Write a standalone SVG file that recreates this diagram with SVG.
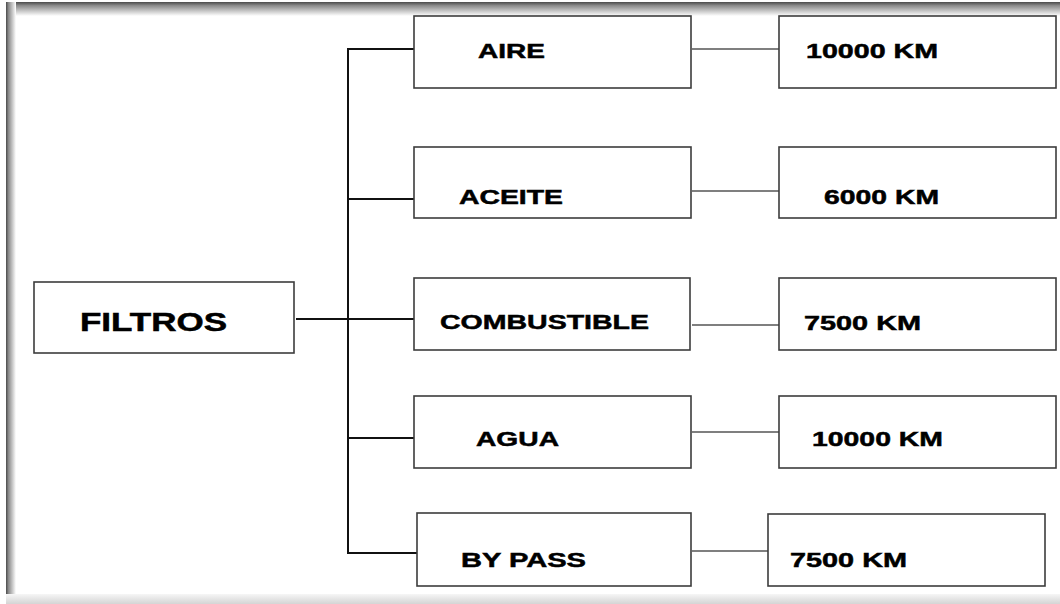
<svg xmlns="http://www.w3.org/2000/svg" width="1060" height="604" viewBox="0 0 1060 604">
  <defs>
    <linearGradient id="shadeTop" x1="0" y1="0" x2="0" y2="1">
      <stop offset="0" stop-color="#4a4a4a"/>
      <stop offset="0.25" stop-color="#8a8a8a"/>
      <stop offset="1" stop-color="#ffffff"/>
    </linearGradient>
    <linearGradient id="shadeLeft" x1="0" y1="0" x2="1" y2="0">
      <stop offset="0" stop-color="#4a4a4a"/>
      <stop offset="0.25" stop-color="#8a8a8a"/>
      <stop offset="1" stop-color="#ffffff"/>
    </linearGradient>
    <linearGradient id="shadeBottom" x1="0" y1="0" x2="0" y2="1">
      <stop offset="0" stop-color="#f6f6f6"/>
      <stop offset="1" stop-color="#d4d4d4"/>
    </linearGradient>
    <style>
      .box { fill: #ffffff; stroke: #3c3c3c; stroke-width: 1.6; }
      .lbl { font-family: "Liberation Sans", Arial, sans-serif; font-weight: bold; font-size: 21px; fill: #000000; stroke: #000000; stroke-width: 0.5; }
      .root { font-size: 25px; }
      .trunk { fill: none; stroke: #111111; stroke-width: 2; }
      .link { fill: none; stroke: #555555; stroke-width: 1.6; }
    </style>
  </defs>

  <!-- page background and edge shading -->
  <rect x="0" y="0" width="1060" height="604" fill="#ffffff"/>
  <rect x="6" y="2" width="1054" height="14" fill="url(#shadeTop)"/>
  <rect x="6" y="2" width="10" height="594" fill="url(#shadeLeft)"/>
  <rect x="6" y="594" width="1054" height="10" fill="url(#shadeBottom)"/>

  <!-- connectors -->
  <g id="connectors">
    <line class="trunk" x1="348" y1="49" x2="348" y2="553"/>
    <line class="trunk" x1="296" y1="319" x2="417" y2="319"/>
    <line class="trunk" x1="347" y1="49" x2="417" y2="49"/>
    <line class="trunk" x1="347" y1="199" x2="417" y2="199"/>
    <line class="trunk" x1="347" y1="438" x2="417" y2="438"/>
    <line class="trunk" x1="347" y1="553" x2="417" y2="553"/>
    <line class="link" x1="692" y1="49" x2="779" y2="49"/>
    <line class="link" x1="692" y1="191" x2="779" y2="191"/>
    <line class="link" x1="692" y1="325" x2="779" y2="325"/>
    <line class="link" x1="692" y1="432" x2="779" y2="432"/>
    <line class="link" x1="692" y1="551" x2="768" y2="551"/>
  </g>

  <!-- root node -->
  <g id="filtros">
    <rect class="box" x="34" y="282" width="260" height="71"/>
    <text class="lbl root" x="80" y="331" textLength="147" lengthAdjust="spacingAndGlyphs">FILTROS</text>
  </g>

  <!-- filter types -->
  <g id="aire">
    <rect class="box" x="414" y="16" width="277" height="72"/>
    <text class="lbl" x="478" y="58" textLength="67" lengthAdjust="spacingAndGlyphs">AIRE</text>
  </g>
  <g id="aceite">
    <rect class="box" x="414" y="147" width="277" height="71"/>
    <text class="lbl" x="459" y="204" textLength="104" lengthAdjust="spacingAndGlyphs">ACEITE</text>
  </g>
  <g id="combustible">
    <rect class="box" x="414" y="278" width="276" height="72"/>
    <text class="lbl" x="440" y="329" textLength="209" lengthAdjust="spacingAndGlyphs">COMBUSTIBLE</text>
  </g>
  <g id="agua">
    <rect class="box" x="414" y="396" width="277" height="72"/>
    <text class="lbl" x="476" y="446" textLength="83" lengthAdjust="spacingAndGlyphs">AGUA</text>
  </g>
  <g id="bypass">
    <rect class="box" x="417" y="513" width="274" height="73"/>
    <text class="lbl" x="461" y="567" textLength="125" lengthAdjust="spacingAndGlyphs">BY PASS</text>
  </g>

  <!-- change intervals -->
  <g id="km-aire">
    <rect class="box" x="779" y="16" width="277" height="72"/>
    <text class="lbl" x="806" y="58" textLength="132" lengthAdjust="spacingAndGlyphs">10000 KM</text>
  </g>
  <g id="km-aceite">
    <rect class="box" x="779" y="147" width="277" height="71"/>
    <text class="lbl" x="824" y="204" textLength="115" lengthAdjust="spacingAndGlyphs">6000 KM</text>
  </g>
  <g id="km-combustible">
    <rect class="box" x="779" y="278" width="277" height="72"/>
    <text class="lbl" x="804" y="330" textLength="117" lengthAdjust="spacingAndGlyphs">7500 KM</text>
  </g>
  <g id="km-agua">
    <rect class="box" x="779" y="396" width="277" height="72"/>
    <text class="lbl" x="812" y="446" textLength="131" lengthAdjust="spacingAndGlyphs">10000 KM</text>
  </g>
  <g id="km-bypass">
    <rect class="box" x="768" y="514" width="277" height="72"/>
    <text class="lbl" x="790" y="567" textLength="117" lengthAdjust="spacingAndGlyphs">7500 KM</text>
  </g>
</svg>
